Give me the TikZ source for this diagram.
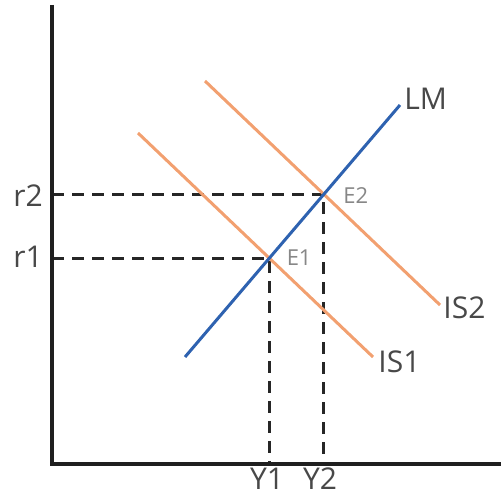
\documentclass[tikz,border=0pt]{standalone}
\usepackage{fontspec}
\setmainfont{Open Sans}
\usepackage{xcolor}
\usepackage{tikz}
\usetikzlibrary{positioning,calc}
\definecolor{islmblue}{RGB}{46,98,176}
\definecolor{islmorange}{RGB}{242,160,112}
\definecolor{islmtext}{RGB}{72,72,72}
\definecolor{islmlight}{RGB}{135,135,135}
\begin{document}
\begin{tikzpicture}[
  x=0.5pt,y=0.5pt,
  axis/.style={line width=2pt,color=black!88},
  lmcurve/.style={line width=1.5pt,color=islmblue},
  iscurve/.style={line width=1.5pt,color=islmorange},
  guide/.style={line width=1.4pt,color=black!85,dash pattern=on 6pt off 4pt},
  lbl/.style={font=\fontsize{15}{15}\selectfont,text=islmtext,inner sep=1pt},
  eqlbl/.style={font=\fontsize{11}{11}\selectfont,text=islmlight,inner sep=1pt}
]
\useasboundingbox (0,0) rectangle (501,497);
\coordinate (origin) at (52,33);
\coordinate (ytop) at (52,492);
\coordinate (xend) at (501,33);
\coordinate (lmlow) at (185,140);
\coordinate (lmhigh) at (400,392);
\coordinate (isAstart) at (138,364);
\coordinate (isAend) at (373,140);
\coordinate (isBstart) at (205,416);
\coordinate (isBend) at (440,192);
\coordinate (E1) at (intersection of lmlow--lmhigh and isAstart--isAend);
\coordinate (E2) at (intersection of lmlow--lmhigh and isBstart--isBend);
\draw[guide] (E1 -| origin) -- (E1) -- (E1 |- origin);
\draw[guide] (E2 -| origin) -- (E2) -- (E2 |- origin);
\draw[iscurve] (isAstart) -- (isAend);
\draw[iscurve] (isBstart) -- (isBend);
\draw[lmcurve] (lmlow) -- (lmhigh);
\draw[axis] (ytop) -- (origin) -- (xend);
\node[lbl,anchor=west] (lmlbl) at ($(lmhigh)+(2,6)$) {LM};
\node[lbl,anchor=west] (isAlbl) at ($(isAend)+(3,-5)$) {IS1};
\node[lbl,anchor=west] (isBlbl) at ($(isBend)+(1,-3)$) {IS2};
\node[eqlbl,anchor=west] (e1lbl) at ($(E1)+(15,0)$) {E1};
\node[eqlbl,anchor=west] (e2lbl) at ($(E2)+(17,-1)$) {E2};
\node[lbl] (r1lbl) at (28,240) {r1};
\node[lbl] (r2lbl) at (28,301) {r2};
\node[lbl] (y1lbl) at (267,18) {Y1};
\node[lbl] (y2lbl) at (320,18) {Y2};
\end{tikzpicture}
\end{document}
